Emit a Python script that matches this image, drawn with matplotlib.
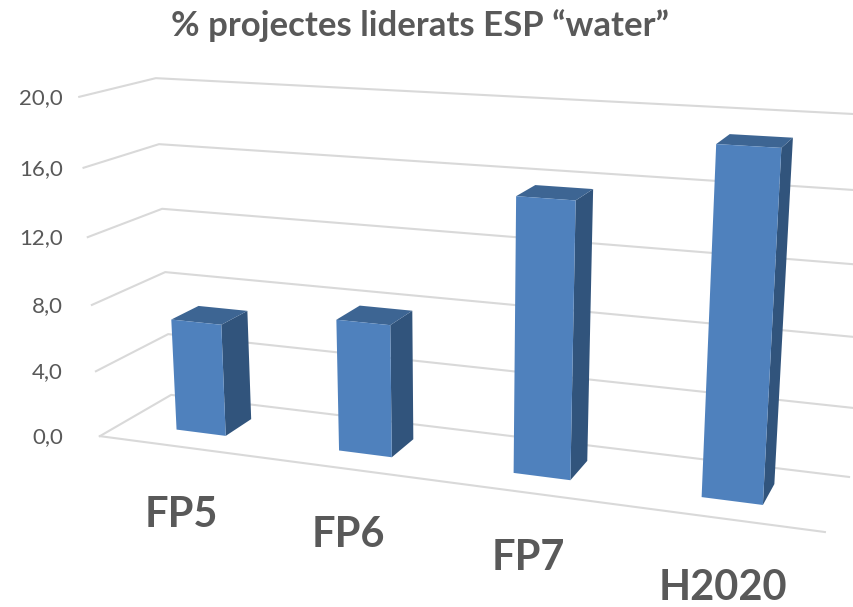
import numpy as np
import matplotlib
matplotlib.use("Agg")
import matplotlib.pyplot as plt
from matplotlib.patches import Polygon

# -----------------------------
# Data
# -----------------------------
categories = ["FP5", "FP6", "FP7", "H2020"]
values = [6.8, 7.8, 15.6, 19.0]
ticks = [0, 4, 8, 12, 16, 20]
tick_labels = ["0,0", "4,0", "8,0", "12,0", "16,0", "20,0"]
title = "% projectes liderats ESP “water”"

# -----------------------------
# Style
# -----------------------------
plt.rcParams["font.family"] = ["Lato", "DejaVu Sans"]
text_color = "#595959"
grid_color = "#D9D9D9"
front_color = "#4F81BD"
side_color = "#31547C"
top_color = "#3D6593"
bar_width = 0.31
depth_front = 0.31
depth_back = 0.70

# camera: chart box corners (category, depth, value) -> pixel
world = np.array([
    [0, 0, 0], [0, 1, 0], [4, 0, 0], [4, 1, 0],
    [0, 0, 20], [0, 1, 20], [4, 1, 20],
], dtype=float)
pixel = np.array([
    [100, 436], [171, 395], [825, 532], [849, 477],
    [79, 97], [156, 78], [873, 115],
], dtype=float)


def fit_camera(w, p):
    rows = []
    for (x, y, z), (u, v) in zip(w, p):
        rows.append([x, y, z, 1, 0, 0, 0, 0, -u * x, -u * y, -u * z, -u])
        rows.append([0, 0, 0, 0, x, y, z, 1, -v * x, -v * y, -v * z, -v])
    return np.linalg.svd(np.array(rows))[2][-1].reshape(3, 4)


cam = fit_camera(world, pixel)


def project(x, y, z):
    q = cam @ np.array([x, y, z, 1.0])
    return q[0] / q[2], q[1] / q[2]


# -----------------------------
# Plot
# -----------------------------
fig = plt.figure(figsize=(8.54, 6.07), dpi=100)
ax = fig.add_axes([0, 0, 1, 1])
ax.set_xlim(0, 854)
ax.set_ylim(607, 0)
ax.axis("off")

# gridlines along side wall and back wall
for t, lab in zip(ticks, tick_labels):
    pts = [project(0, 0, t), project(0, 1, t), project(4, 1, t)]
    ax.plot(*zip(*pts), color=grid_color, lw=1.5, zorder=1)
    u, v = project(0, 0, t)
    ax.text(63, v + 1, lab, ha="right", va="center", fontsize=16, color=text_color)
ax.plot(*zip(project(0, 0, 0), project(4, 0, 0)), color=grid_color, lw=1.5, zorder=1)

# bars
for i, val in enumerate(values):
    x0 = i + 0.5 - bar_width / 2
    x1 = i + 0.5 + bar_width / 2
    y0 = depth_front
    y1 = depth_back
    side = [project(x1, y0, 0), project(x1, y1, 0), project(x1, y1, val), project(x1, y0, val)]
    top = [project(x0, y0, val), project(x1, y0, val), project(x1, y1, val), project(x0, y1, val)]
    front = [project(x0, y0, 0), project(x1, y0, 0), project(x1, y0, val), project(x0, y0, val)]
    ax.add_patch(Polygon(side, facecolor=side_color, edgecolor="none", zorder=2))
    ax.add_patch(Polygon(top, facecolor=top_color, edgecolor="none", zorder=2))
    ax.add_patch(Polygon(front, facecolor=front_color, edgecolor="none", zorder=3))

# category labels
label_pos = [(181, 515), (348, 535), (528, 558), (723, 588)]
for name, (u, v) in zip(categories, label_pos):
    ax.text(u, v, name, ha="center", va="center", fontsize=30, fontweight="bold", color=text_color)

ax.text(420, 26, title, ha="center", va="center", fontsize=25, fontweight="bold", color=text_color)

fig.savefig("out.png", dpi=100)
